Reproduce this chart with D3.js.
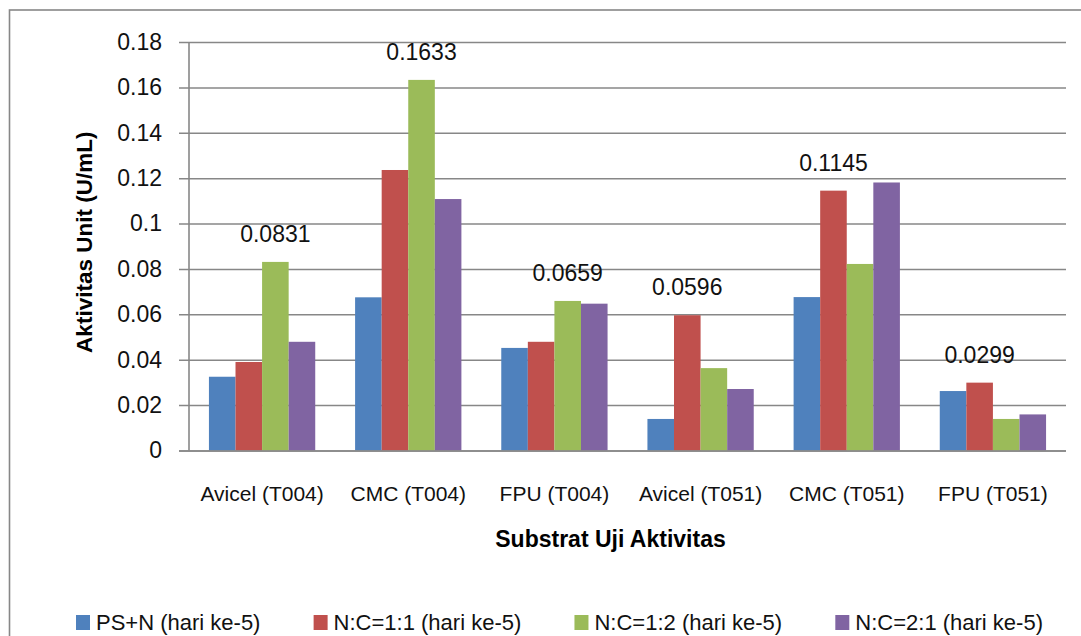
<!DOCTYPE html>
<html>
<head>
<meta charset="utf-8">
<script src="https://cdn.jsdelivr.net/npm/d3@7"></script>
<style>
  html, body { margin: 0; padding: 0; background: #ffffff; }
  svg { display: block; font-family: "Liberation Sans", Arial, sans-serif; }
</style>
</head>
<body>
<svg id="chart" width="1081" height="636"></svg>
<script>
// Substrate groups on the x axis
const categories = ["Avicel (T004)", "CMC (T004)", "FPU (T004)", "Avicel (T051)", "CMC (T051)", "FPU (T051)"];

// Series names (legend)
const seriesNames = ["PS+N (hari ke-5)", "N:C=1:1 (hari ke-5)", "N:C=1:2 (hari ke-5)", "N:C=2:1 (hari ke-5)"];

// Enzyme activity (U/mL) per substrate, one array per series
const psN  = [0.0325, 0.0675, 0.0452, 0.0139, 0.0676, 0.0262];
const nc11 = [0.0390, 0.1236, 0.0479, 0.0596, 0.1145, 0.0299];
const nc12 = [0.0831, 0.1633, 0.0659, 0.0363, 0.0822, 0.0139];
const nc21 = [0.0479, 0.1108, 0.0647, 0.0271, 0.1181, 0.0159];

// Index of the series whose value is printed above its bar in each group
const labelledSeries = [2, 2, 2, 1, 1, 1];

// Y axis ticks
const yTicks = [0, 0.02, 0.04, 0.06, 0.08, 0.1, 0.12, 0.14, 0.16, 0.18];

const seriesValues = [psN, nc11, nc12, nc21];
const colors = ["#4F81BD", "#C0504D", "#9BBB59", "#8064A2"];

const svg = d3.select("#chart");
const W = 1081, H = 636;
const plot = { left: 189, right: 1066, top: 42, bottom: 450.5 };
const gridColor = "#878787";

// Outer chart frame (runs off the right and bottom edges)
svg.append("rect")
  .attr("x", 9.5).attr("y", 10)
  .attr("width", W + 20).attr("height", H + 20)
  .attr("fill", "#ffffff")
  .attr("stroke", gridColor).attr("stroke-width", 1.6);

const x0 = d3.scaleBand()
  .domain(categories)
  .range([plot.left, plot.right])
  .paddingInner(0).paddingOuter(0);

const x1 = d3.scaleBand()
  .domain(d3.range(seriesNames.length))
  .range([0, x0.bandwidth()])
  .paddingInner(0).paddingOuter(0.75);

const y = d3.scaleLinear()
  .domain([0, 0.18])
  .range([plot.bottom, plot.top]);

const fmt = v => String(+v.toFixed(2));

// Horizontal gridlines + y axis
const yAxis = d3.axisLeft(y)
  .tickValues(yTicks)
  .tickFormat(fmt)
  .tickSize(10)
  .tickPadding(17);

const gy = svg.append("g")
  .attr("transform", `translate(${plot.left},0)`)
  .call(yAxis);
gy.select(".domain").remove();
gy.selectAll(".tick line")
  .attr("stroke", gridColor).attr("stroke-width", 1.5)
  .attr("x1", -10).attr("x2", plot.right - plot.left);
gy.selectAll(".tick text")
  .attr("fill", "#111")
  .style("font-size", "23px")
  .style("font-family", "'Liberation Sans', Arial, sans-serif");

// Vertical axis line
svg.append("line")
  .attr("x1", plot.left).attr("x2", plot.left)
  .attr("y1", plot.top).attr("y2", plot.bottom)
  .attr("stroke", gridColor).attr("stroke-width", 1.6);

// Bars
const groups = svg.append("g").selectAll("g")
  .data(categories)
  .join("g")
  .attr("transform", d => `translate(${x0(d)},0)`);

groups.selectAll("rect")
  .data((c, ci) => seriesValues.map((vals, si) => ({ si, v: vals[ci] })))
  .join("rect")
  .attr("x", d => x1(d.si))
  .attr("width", x1.bandwidth())
  .attr("y", d => y(d.v))
  .attr("height", d => y(0) - y(d.v))
  .attr("fill", d => colors[d.si]);

// Value labels
groups.append("text")
  .attr("x", (c, ci) => x1(labelledSeries[ci]) + x1.bandwidth() / 2)
  .attr("y", (c, ci) => y(seriesValues[labelledSeries[ci]][ci]) - 20)
  .attr("text-anchor", "middle")
  .attr("fill", "#111")
  .style("font-size", "23px")
  .text((c, ci) => seriesValues[labelledSeries[ci]][ci].toFixed(4));

// Baseline (x axis)
const xAxis = d3.axisBottom(x0).tickSize(0).tickPadding(0);
const gx = svg.append("g")
  .attr("transform", `translate(0,${plot.bottom})`)
  .call(xAxis);
gx.select(".domain")
  .attr("stroke", gridColor).attr("stroke-width", 1.6)
  .attr("d", `M${plot.left - 10},0.5H${plot.right}`);
gx.selectAll(".tick text")
  .attr("y", 50).attr("dy", 0)
  .attr("fill", "#111")
  .style("font-size", "21px")
  .style("font-family", "'Liberation Sans', Arial, sans-serif");

// Axis titles
svg.append("text")
  .attr("x", (plot.left + plot.right) / 2 - 17)
  .attr("y", 547)
  .attr("text-anchor", "middle")
  .attr("fill", "#000")
  .style("font-size", "23px")
  .style("font-weight", "bold")
  .text("Substrat Uji Aktivitas");

svg.append("text")
  .attr("transform", `translate(92,${(plot.top + plot.bottom) / 2 - 4}) rotate(-90)`)
  .attr("text-anchor", "middle")
  .attr("fill", "#000")
  .style("font-size", "22.5px")
  .style("font-weight", "bold")
  .text("Aktivitas Unit (U/mL)");

// Legend: swatch + label, spread across the bottom row
const legendLeft = 76, legendRight = 1043, legendBase = 630;
const legend = svg.append("g");
const items = legend.selectAll("g")
  .data(seriesNames)
  .join("g");
items.append("rect")
  .attr("width", 14).attr("height", 15)
  .attr("y", legendBase - 15)
  .attr("fill", (d, i) => colors[i]);
items.append("text")
  .attr("x", 20)
  .attr("y", legendBase)
  .attr("fill", "#111")
  .style("font-size", "22px")
  .text(d => d);

const widths = [];
items.each(function () {
  widths.push(20 + d3.select(this).select("text").node().getComputedTextLength());
});
const gap = (legendRight - legendLeft - d3.sum(widths)) / (widths.length - 1);
let cursor = legendLeft;
items.attr("transform", (d, i) => {
  const t = `translate(${cursor},0)`;
  cursor += widths[i] + gap;
  return t;
});
</script>
</body>
</html>
